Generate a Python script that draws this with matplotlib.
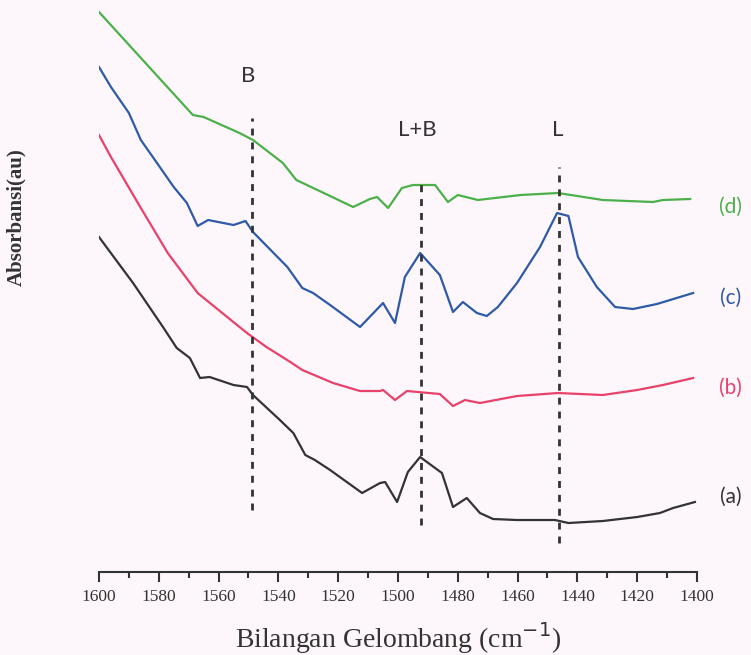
import matplotlib.pyplot as plt
import numpy as np

# wavenumber (cm-1) / absorbance (au, offset spectra)
wn_a = [1600, 1588.6, 1578.6, 1574, 1569.6, 1566.2, 1563, 1555, 1550.5, 1548.5, 1539.5, 1535,
        1531, 1527.8, 1522.7, 1512, 1506, 1504.3, 1500.3, 1496.7, 1492.6, 1485.3, 1481.6,
        1477, 1472.6, 1468.2, 1460.2, 1447.5, 1443, 1431.5, 1420, 1412.4, 1408, 1400.7]
abs_a = [3.63, 3.17, 2.73, 2.52, 2.42, 2.22, 2.23, 2.15, 2.13, 2.05, 1.80, 1.67,
         1.45, 1.40, 1.30, 1.07, 1.17, 1.18, 0.98, 1.28, 1.43, 1.27, 0.93,
         1.02, 0.87, 0.81, 0.80, 0.80, 0.77, 0.79, 0.83, 0.87, 0.92, 0.98]

wn_b = [1600, 1596, 1586, 1577, 1567, 1553, 1550.5, 1544, 1536, 1532, 1521.7, 1512.7, 1506,
        1505, 1501, 1497, 1486, 1481.6, 1477.6, 1472.6, 1460.2, 1446.5, 1431.5, 1420,
        1411.4, 1401.3]
abs_b = [4.65, 4.43, 3.92, 3.47, 3.07, 2.73, 2.67, 2.53, 2.38, 2.30, 2.17, 2.09, 2.09,
         2.10, 2.00, 2.09, 2.06, 1.94, 2.00, 1.97, 2.04, 2.07, 2.05, 2.10,
         2.15, 2.22]

wn_c = [1600, 1596, 1590, 1586, 1582, 1575, 1570.6, 1567, 1563.5, 1555, 1551, 1548.5, 1537,
        1532, 1528.4, 1522.7, 1512.7, 1505, 1501, 1497.7, 1492.6, 1486, 1481.6, 1478.3,
        1473.6, 1470.3, 1466.6, 1460.2, 1452.5, 1446.8, 1443, 1439.8, 1433.5, 1427.4,
        1421.4, 1413.4, 1409, 1401.3]
abs_c = [5.33, 5.13, 4.87, 4.60, 4.43, 4.13, 3.97, 3.74, 3.80, 3.75, 3.79, 3.68, 3.33,
         3.12, 3.07, 2.95, 2.73, 2.97, 2.77, 3.23, 3.47, 3.25, 2.88, 2.98,
         2.87, 2.84, 2.93, 3.17, 3.53, 3.87, 3.84, 3.43, 3.13, 2.93,
         2.91, 2.96, 3.00, 3.07]

wn_d = [1600, 1568.6, 1565, 1553, 1548.5, 1538.5, 1534, 1522, 1515, 1509.4, 1507, 1503.3,
        1498.7, 1495, 1487.6, 1483.3, 1480, 1473.3, 1459, 1446.5, 1431.5, 1414.7, 1411.4,
        1402.3]
abs_d = [5.88, 4.85, 4.83, 4.67, 4.60, 4.37, 4.20, 4.03, 3.93, 4.01, 4.03, 3.92,
         4.12, 4.15, 4.15, 3.98, 4.05, 4.00, 4.05, 4.07, 4.00, 3.98, 4.00,
         4.01]

series = [
    (wn_a, abs_a, '#333333', '(a)', 1.03),
    (wn_b, abs_b, '#e8426a', '(b)', 2.12),
    (wn_c, abs_c, '#2e5aa8', '(c)', 3.02),
    (wn_d, abs_d, '#4cb04a', '(d)', 3.93),
]

# band markers: position, line top, line bottom, label, label x, label y
bands = [(1548.8, 4.82, 0.90, 'B', 1550.2, 5.24),
         (1492.4, 4.22, 0.75, 'L+B', 1493.6, 4.70),
         (1446.0, 4.33, 0.57, 'L', 1446.5, 4.70)]

fig = plt.figure(figsize=(7.51, 6.55), dpi=100, facecolor='#fdf7fb')
ax = fig.add_axes([0.1318, 0.1267, 0.7963, 0.8733])
ax.set_facecolor('none')

for wn, ab, col, lab, ylab in series:
    ax.plot(wn, ab, color=col, linewidth=1.6)
    ax.text(1388.8, ylab, lab, color=col, fontsize=15, family='Lato',
            ha='center', va='center', clip_on=False)

for pos, top, bot, lab, lx, ly in bands:
    ax.plot([pos, pos], [bot, top], color='#333333', linestyle=(0, (2.5, 2.5)), linewidth=2)
    ax.text(lx, ly, lab, fontsize=16, family='Lato', color='#333333',
            ha='center', va='center')

ax.set_xlim(1600, 1400)
ax.set_ylim(0.28, 6.0)
ax.set_xticks(np.arange(1400, 1601, 20))
ax.set_xticks(np.arange(1410, 1600, 20), minor=True)
ax.tick_params(axis='x', which='major', direction='out', length=7, width=1.5,
               labelsize=12.5, pad=5, colors='#333333')
ax.tick_params(axis='x', which='minor', direction='out', length=4, width=1.5,
               colors='#333333')
for t in ax.get_xticklabels():
    t.set_family('Liberation Serif')
ax.set_yticks([])
for s in ['left', 'right', 'top']:
    ax.spines[s].set_visible(False)
ax.spines['bottom'].set_linewidth(1.5)
ax.spines['bottom'].set_color('#333333')

ax.set_xlabel('Bilangan Gelombang (cm$^{-1}$)', family='Liberation Serif', fontsize=20,
              labelpad=11, color='#333333')
fig.text(0.022, 0.668, 'Absorbansi(au)', rotation=90, family='Liberation Serif',
         fontweight='bold', fontsize=15, ha='center', va='center', color='#333333')

fig.savefig('out.png', dpi=100, facecolor=fig.get_facecolor())
